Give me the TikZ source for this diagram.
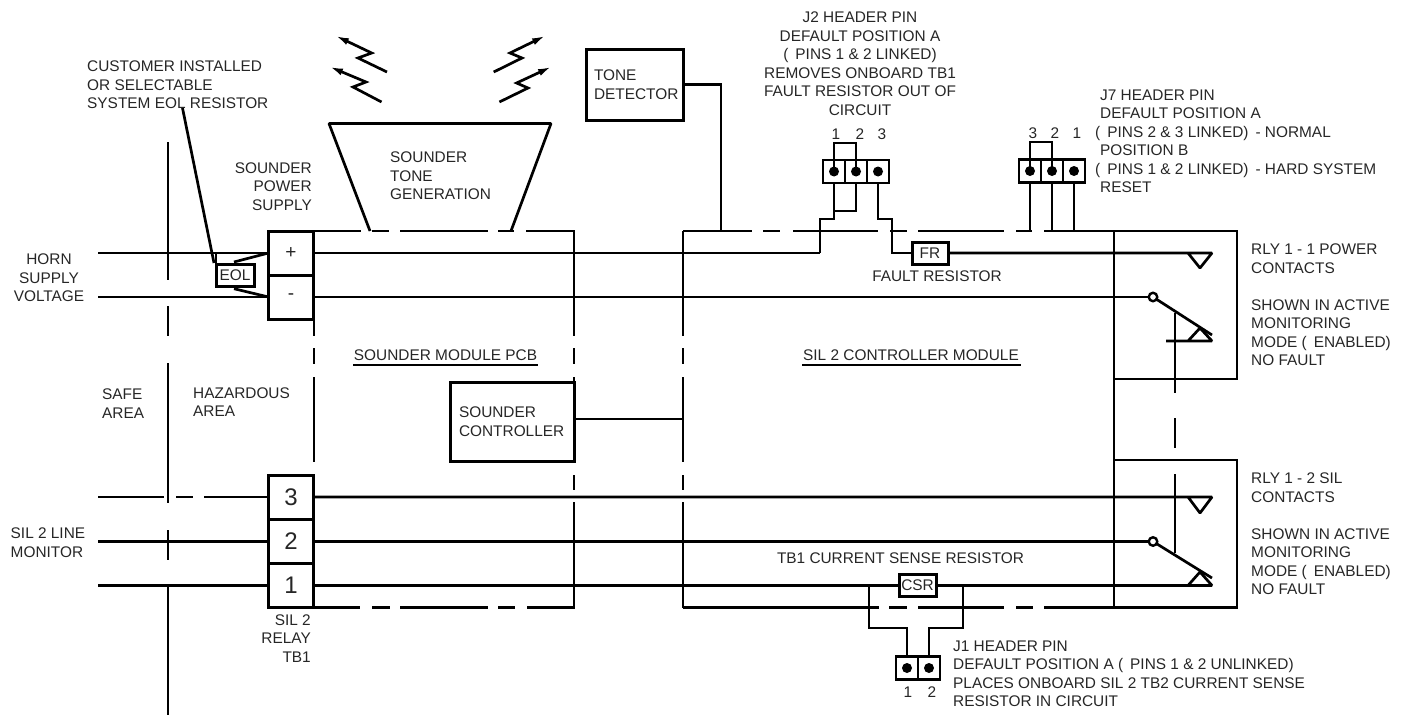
\documentclass[tikz,border=0pt]{standalone}
\usepackage{fontspec}
\setmainfont{Liberation Sans}
\usetikzlibrary{arrows.meta,positioning,calc}
\definecolor{inktext}{HTML}{262626}
\tikzset{
  wire/.style={line width=2.7pt, line cap=butt, line join=miter},
  lbl/.style={font=\fontsize{15.4}{18.5}\selectfont, text=inktext, align=left, inner sep=0pt, anchor=west},
  lblc/.style={lbl, align=center, anchor=center},
  lblr/.style={lbl, align=right, anchor=east},
  tbox/.style={draw, line width=3pt, minimum width=45pt, minimum height=44pt, inner sep=0pt, outer sep=0pt, font=\fontsize{24}{24}\selectfont, text=inktext},
  res/.style={draw, line width=3pt, fill=white, minimum width=36pt, minimum height=22pt, inner sep=0pt, outer sep=0pt, font=\fontsize{15.4}{18}\selectfont, text=inktext},
  cell/.style={draw, line width=2.8pt, minimum width=22pt, minimum height=23pt, inner sep=0pt, outer sep=0pt},
  pindot/.style={circle, fill=black, minimum size=10pt, inner sep=0pt},
  pole/.style={circle, draw, line width=2.4pt, minimum size=8.5pt, inner sep=0pt, fill=white},
  ctl/.style={draw, line width=3pt, align=left, inner sep=0pt, outer sep=0pt, font=\fontsize{15.4}{18.5}\selectfont, text=inktext},
  wave/.style={line width=2.7pt, -{Latex[length=14pt,width=7pt]}},
  ulbar/.style={line width=2.6pt},
}
\begin{document}
\begin{tikzpicture}[x=1pt,y=-1pt]
  \useasboundingbox (0,0) rectangle (1406,715);

  % Safe area divider
  \foreach \a/\b in {142/280,306/336,363/503,530/560,586/715}
    \draw[wire] (168,\a) -- (168,\b);

  % Module outlines
  \foreach \a/\b in {268/361,372/389,400/488,498/514,526/575,683/752,763/780,793/878,890/907,918/1004,1016/1032,1044/1238}
    \draw[wire] (\a,231) -- (\b,231);
  \foreach \a/\b in {313/360,372/390,400/488,498/515,527/575,683/879,889/907,918/1004,1016/1033,1044/1238}
    \draw[wire] (\a,607.7) -- (\b,607.7);
  \foreach \x in {314,574,683}
    \foreach \a/\b in {231/336,348/364,377/462}
      \draw[wire] (\x,\a) -- (\x,\b);
  \foreach \x in {574,683}
    \foreach \a/\b in {475/490,502/608}
      \draw[wire] (\x,\a) -- (\x,\b);

  % Relay frames
  \draw[wire] (1114,231) -- (1114,607.7);
  \draw[wire] (1237,231) -- (1237,379) -- (1114,379);
  \draw[wire] (1114,460) -- (1237,460) -- (1237,607.7);
  \foreach \a/\b in {313/393,418/448,474/553}
    \draw[wire] (1175,\a) -- (1175,\b);

  % Terminal blocks
  \node[tbox, font=\fontsize{19}{19}\selectfont] (plus) at (291,253) {+};
  \node[tbox, font=\fontsize{19}{19}\selectfont] (minus) at (291,297) {-};
  \node[tbox] (tbthree) at (291,497) {3};
  \node[tbox] (tbtwo) at (291,541.5) {2};
  \node[tbox] (tbone) at (291,585.5) {1};

  % Function blocks
  \node[ctl, minimum width=97pt, minimum height=71pt, text width=81pt] (tone) at (634.5,84.5) {TONE\\DETECTOR};
  \node[ctl, minimum width=124pt, minimum height=79pt, text width=106pt] (sctl) at (512,421.5) {SOUNDER\\CONTROLLER};
  \node[res, minimum width=38pt] (eol) at (235,275) {EOL};
  \node[res] (fr) at (930,253) {FR};
  \node[res, minimum width=37pt] (csr) at (917.5,585.5) {CSR};

  % Trapezoid and waves
  \draw[wire, line join=bevel] (370,231) -- (329,123.5) -- (551,123.5) -- (511,231);
  \draw[wave] (387,72) -- (358,58) -- (371.7,53) -- (335,35.5);
  \draw[wave] (381.5,102) -- (353,87) -- (366,82) -- (329,66.5);
  \draw[wave] (493.7,72) -- (522,58) -- (510,53) -- (546,35.5);
  \draw[wave] (499.4,102) -- (528,88) -- (516.6,83) -- (552,66.5);

  % Header J2
  \foreach \n/\x in {a/834,b/856,c/878} {
    \node[cell] (jtwo\n) at (\x,171.5) {};
    \node[pindot] (jtwo\n dot) at (jtwo\n) {};
  }
  \draw[wire] (jtwoa.center) -- ++(0,-28.5) -| (jtwob.center);
  \draw[wire] (jtwob.south) -- ++(0,28) -- ($(jtwoa.south)+(0,28)$);
  \draw[wire] (jtwoa.south) -- ++(0,36) -| (820,253);

  % Header J7
  \foreach \n/\x in {a/1030,b/1052,c/1074} {
    \node[cell] (jseven\n) at (\x,171) {};
    \node[pindot] (jseven\n dot) at (jseven\n) {};
    \draw[wire] (jseven\n.south) -- (\x,231);
  }
  \draw[wire] (jsevena.center) -- ++(0,-29) -| (jsevenb.center);

  % Header J1
  \foreach \n/\x in {a/907,b/929} {
    \node[cell] (jone\n) at (\x,668) {};
    \node[pindot] (jone\n dot) at (jone\n) {};
  }
  \draw[wire] (jonea.north) |- (869,628) -- (869,585.5);
  \draw[wire] (joneb.north) |- (963,628) -- (963,585.5);

  % Supply wires
  \coordinate (hornp) at (98,253);
  \coordinate (hornm) at (98,297);
  \coordinate (cpa) at (1153,297);
  \coordinate (cpb) at (1153,541.5);
  \draw[wire] (hornp) -- (plus);
  \draw[wire] (hornm) -- (minus);
  \draw[wire] (plus.east) -- (820,253);
  \draw[wire] (jtwoc.south) -- ++(0,36) -| (892,253) -- (fr.west);
  \draw[wire] (minus.east) -- (cpa);
  \draw[wire] (eol.north west) -- ++(0,-11);
  \draw[wire] (234,262) -- (plus.west);
  \draw[wire] (234,288.7) -- (minus.west);
  \coordinate (eoltop) at (182.5,108);
  \draw[wire] (eoltop) -- (214,263);

  % Contact sets
  \coordinate (noa) at (1212,253);
  \coordinate (nob) at (1212,497);
  \coordinate (nca) at (1212,341);
  \coordinate (ncb) at (1212,585.5);
  \draw[wire, line join=bevel] (fr.east) -- (noa) -- (1200,268) -- (1188,253);
  \draw[wire, line join=bevel] (tbthree.east) -- (nob) -- (1200,513) -- (1188,497);
  \draw[wire, line join=bevel] (1166,341) -- (nca) -- (1200,328) -- (1188,341);
  \draw[wire] (tbone.east) -- (csr.west);
  \draw[wire, line join=bevel] (csr.east) -- (ncb) -- (1200,572) -- (1188,585.5);
  \draw[wire] (tbtwo.east) -- (cpb);
  \draw[wire] (cpa) -- (1212,335);
  \draw[wire] (cpb) -- (1212,578);
  \node[pole] (polea) at (cpa) {};
  \node[pole] (poleb) at (cpb) {};

  % Left lines for TB1
  \foreach \a/\b in {98/164,176/193,204/268}
    \draw[wire] (\a,497) -- (\b,497);
  \coordinate (monb) at (98,541.5);
  \coordinate (mona) at (98,585.5);
  \draw[wire] (monb) -- (tbtwo);
  \draw[wire] (mona) -- (tbone);

  % Tone and controller links
  \draw[wire] (tone.east) -| (721,231);
  \draw[wire] (574,419) -- (683,419);

  % Labels
  \node[lbl] (eoltxt) at (87,85) {CUSTOMER INSTALLED\\OR SELECTABLE\\SYSTEM EOL RESISTOR};
  \node[lblr] (spstxt) at (312,186.5) {SOUNDER\\POWER\\SUPPLY};
  \node[lbl] (tonetxt) at (390,176) {SOUNDER\\TONE\\GENERATION};
  \node[lblc] (horntxt) at (49,278) {HORN\\SUPPLY\\VOLTAGE};
  \node[lblc] (jtwotxt) at (860,63.5) {J2 HEADER PIN\\DEFAULT POSITION A\\(\hspace{7pt}PINS 1 \& 2 LINKED)\\REMOVES ONBOARD TB1\\FAULT RESISTOR OUT OF\\CIRCUIT};
  \node[lbl] (jseventxt) at (1095,141.5) {\hspace*{5pt}J7 HEADER PIN\\\hspace*{5pt}DEFAULT POSITION A\\(\hspace{7pt}PINS 2 \& 3 LINKED)\hspace{7pt}- NORMAL\\\hspace*{5pt}POSITION B\\(\hspace{7pt}PINS 1 \& 2 LINKED)\hspace{7pt}- HARD SYSTEM\\\hspace*{5pt}RESET};
  \node[lbl] (rlyatxt) at (1251,258.5) {RLY 1 - 1 POWER\\CONTACTS};
  \node[lbl] (shownatxt) at (1251,332.5) {SHOWN IN ACTIVE\\MONITORING\\MODE (\hspace{7pt}ENABLED)\\NO FAULT};
  \node[lbl] (rlybtxt) at (1251,487.5) {RLY 1 - 2 SIL\\CONTACTS};
  \node[lbl] (shownbtxt) at (1251,561.5) {SHOWN IN ACTIVE\\MONITORING\\MODE (\hspace{7pt}ENABLED)\\NO FAULT};
  \node[lblc] (frtxt) at (937,276) {FAULT RESISTOR};
  \node[lblc] (pcbtxt) at (445.5,355) {SOUNDER MODULE PCB};
  \node[lblc] (ctltxt) at (911,355) {SIL 2 CONTROLLER MODULE};
  \draw[ulbar] (353,365) -- (538,365);
  \draw[ulbar] (802,365) -- (1021,365);
  \node[lbl] (safetxt) at (102,403.5) {SAFE\\AREA};
  \node[lbl] (haztxt) at (193,402) {HAZARDOUS\\AREA};
  \node[lbl] (montxt) at (10.5,542.5) {SIL 2 LINE\\MONITOR};
  \node[lblr] (tbtxt) at (311,638.5) {SIL 2\\RELAY\\TB1};
  \node[lblc] (csrtxt) at (900.5,558) {TB1 CURRENT SENSE RESISTOR};
  \node[lbl] (jonetxt) at (953,674) {J1 HEADER PIN\\DEFAULT POSITION A (\hspace{7pt}PINS 1 \& 2 UNLINKED)\\PLACES ONBOARD SIL 2 TB2 CURRENT SENSE\\RESISTOR IN CIRCUIT};

  % Pin numbers
  \foreach \t/\x in {1/836,2/860,3/882}
    \node[lblc] (jtwon\t) at (\x,134) {\t};
  \foreach \t/\x in {3/1033,2/1055,1/1077}
    \node[lblc] (jsevenn\t) at (\x,133) {\t};
  \foreach \t/\x in {1/908,2/932}
    \node[lblc] (jonen\t) at (\x,692) {\t};
\end{tikzpicture}
\end{document}
